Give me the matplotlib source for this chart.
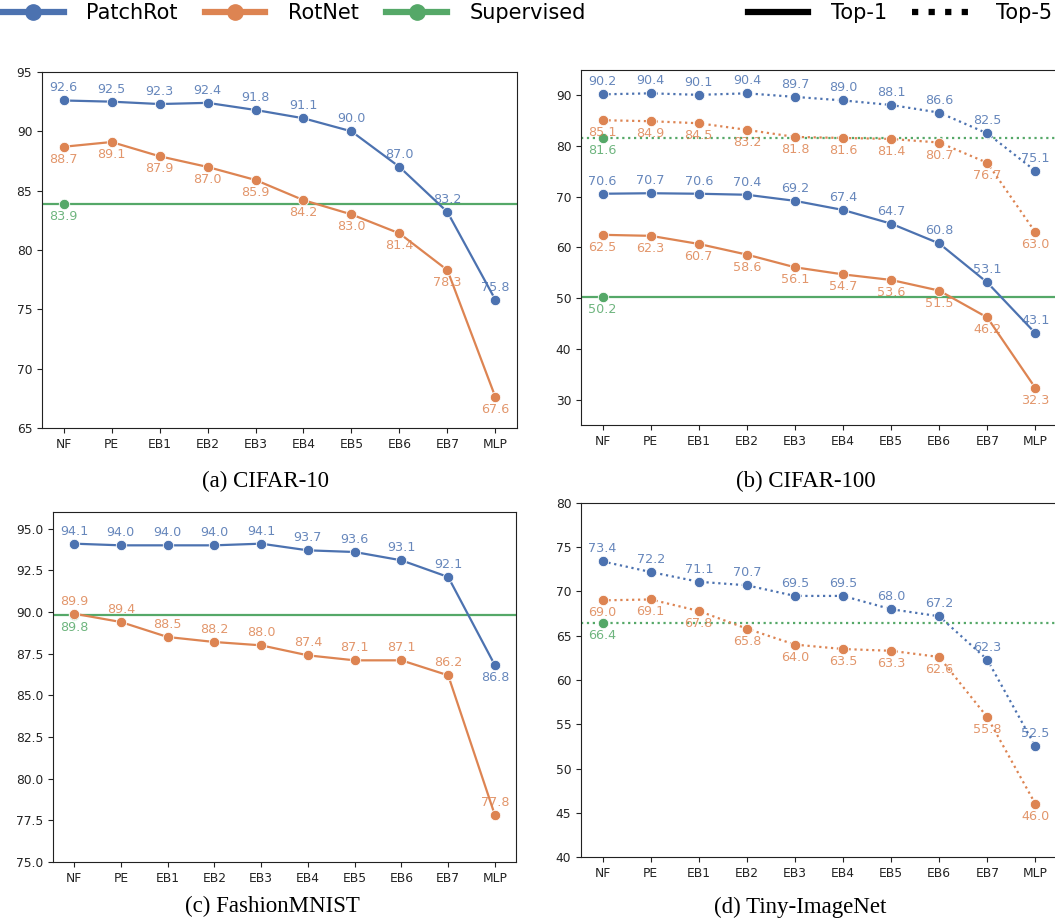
import matplotlib.pyplot as plt
from matplotlib.lines import Line2D

# data
stages = ["NF", "PE", "EB1", "EB2", "EB3", "EB4", "EB5", "EB6", "EB7", "MLP"]

c10_patchrot = [92.6, 92.5, 92.3, 92.4, 91.8, 91.1, 90.0, 87.0, 83.2, 75.8]
c10_rotnet = [88.7, 89.1, 87.9, 87.0, 85.9, 84.2, 83.0, 81.4, 78.3, 67.6]
c10_sup = 83.9

c100_patchrot_top1 = [70.6, 70.7, 70.6, 70.4, 69.2, 67.4, 64.7, 60.8, 53.1, 43.1]
c100_rotnet_top1 = [62.5, 62.3, 60.7, 58.6, 56.1, 54.7, 53.6, 51.5, 46.2, 32.3]
c100_patchrot_top5 = [90.2, 90.4, 90.1, 90.4, 89.7, 89.0, 88.1, 86.6, 82.5, 75.1]
c100_rotnet_top5 = [85.1, 84.9, 84.5, 83.2, 81.8, 81.6, 81.4, 80.7, 76.7, 63.0]
c100_sup_top1 = 50.2
c100_sup_top5 = 81.6

fm_patchrot = [94.1, 94.0, 94.0, 94.0, 94.1, 93.7, 93.6, 93.1, 92.1, 86.8]
fm_rotnet = [89.9, 89.4, 88.5, 88.2, 88.0, 87.4, 87.1, 87.1, 86.2, 77.8]
fm_sup = 89.8

tin_patchrot_top5 = [73.4, 72.2, 71.1, 70.7, 69.5, 69.5, 68.0, 67.2, 62.3, 52.5]
tin_rotnet_top5 = [69.0, 69.1, 67.8, 65.8, 64.0, 63.5, 63.3, 62.6, 55.8, 46.0]
tin_sup_top5 = 66.4

BLUE = "#4C72B0"
ORANGE = "#DD8452"
GREEN = "#55A868"

W, H = 1055, 922
fig = plt.figure(figsize=(W / 100, H / 100), dpi=100)


def box(l, r, t, b):
    return [l / W, 1 - b / H, (r - l) / W, (b - t) / H]


def series(ax, vals, color, ls, up):
    x = range(len(vals))
    ax.plot(x, vals, color=color, ls=ls, lw=1.6, marker="o", ms=7.5,
            mec="white", mew=0.6)
    for i, v in enumerate(vals):
        d = up[i] if isinstance(up, list) else up
        ax.annotate(f"{v:.1f}", (i, v), xytext=(0, 9 if d else -9),
                    textcoords="offset points", ha="center", va="center",
                    fontsize=9.2, color=color, alpha=0.85)


def supervised(ax, val, ls):
    ax.axhline(val, color=GREEN, ls=ls, lw=1.6)
    ax.plot([0], [val], "o", color=GREEN, ms=7.5, mec="white", mew=0.6)
    ax.annotate(f"{val:.1f}", (0, val), xytext=(0, -9), textcoords="offset points",
                ha="center", va="center", fontsize=9.2, color=GREEN, alpha=0.85)


def style(ax, ylim, yticks):
    ax.set_xticks(range(len(stages)))
    ax.set_xticklabels(stages)
    ax.set_xlim(-0.45, len(stages) - 0.55)
    ax.set_ylim(*ylim)
    ax.set_yticks(yticks)
    ax.tick_params(labelsize=8.8, colors="#222222", length=3.5)
    for s in ax.spines.values():
        s.set_color("#222222")


# (a) CIFAR-10
ax = fig.add_axes(box(42, 517, 72, 428))
supervised(ax, c10_sup, "-")
series(ax, c10_rotnet, ORANGE, "-", False)
series(ax, c10_patchrot, BLUE, "-", True)
style(ax, (65, 95), [65, 70, 75, 80, 85, 90, 95])
fig.text(266 / W, 1 - 481 / H, "(a) CIFAR-10", ha="center", va="center",
         family="Liberation Serif", fontsize=16.5)

# (b) CIFAR-100
ax = fig.add_axes(box(581, 1057, 70, 425))
supervised(ax, c100_sup_top1, "-")
supervised(ax, c100_sup_top5, ":")
series(ax, c100_rotnet_top1, ORANGE, "-", False)
series(ax, c100_patchrot_top1, BLUE, "-", True)
series(ax, c100_rotnet_top5, ORANGE, ":", False)
series(ax, c100_patchrot_top5, BLUE, ":", True)
style(ax, (25, 95), [30, 40, 50, 60, 70, 80, 90])
fig.text(806 / W, 1 - 481 / H, "(b) CIFAR-100", ha="center", va="center",
         family="Liberation Serif", fontsize=16.5)

# (c) FashionMNIST
ax = fig.add_axes(box(53, 516, 512, 862))
supervised(ax, fm_sup, "-")
series(ax, fm_rotnet, ORANGE, "-", True)
series(ax, fm_patchrot, BLUE, "-", [True] * 9 + [False])
style(ax, (75, 96), [75.0, 77.5, 80.0, 82.5, 85.0, 87.5, 90.0, 92.5, 95.0])
fig.text(272 / W, 1 - 906 / H, "(c) FashionMNIST", ha="center", va="center",
         family="Liberation Serif", fontsize=16.5)

# (d) Tiny-ImageNet
ax = fig.add_axes(box(581, 1057, 503, 857))
supervised(ax, tin_sup_top5, ":")
series(ax, tin_rotnet_top5, ORANGE, ":", False)
series(ax, tin_patchrot_top5, BLUE, ":", True)
style(ax, (40, 80), [40, 45, 50, 55, 60, 65, 70, 75, 80])
fig.text(800 / W, 1 - 907 / H, "(d) Tiny-ImageNet", ha="center", va="center",
         family="Liberation Serif", fontsize=16.5)

# legends on top
method_handles = [Line2D([], [], color=c, lw=4.5, marker="o", ms=11)
                  for c in (BLUE, ORANGE, GREEN)]
fig.legend(method_handles, ["PatchRot", "RotNet", "Supervised"],
           loc="upper left", bbox_to_anchor=(0.0, 1.0), ncol=3,
           frameon=False, fontsize=15, handlelength=2.9,
           handletextpad=1.1, columnspacing=1.3, borderpad=0.15,
           borderaxespad=0)
metric_handles = [Line2D([], [], color="black", lw=4.5, ls="-"),
                  Line2D([], [], color="black", lw=4.5, ls=":")]
fig.legend(metric_handles, ["Top-1", "Top-5"], loc="upper right",
           bbox_to_anchor=(1.0, 1.0), ncol=2, frameon=False, fontsize=15,
           handlelength=2.9, handletextpad=1.1, columnspacing=1.2,
           borderpad=0.15, borderaxespad=0)

fig.savefig("out.png", dpi=100)
